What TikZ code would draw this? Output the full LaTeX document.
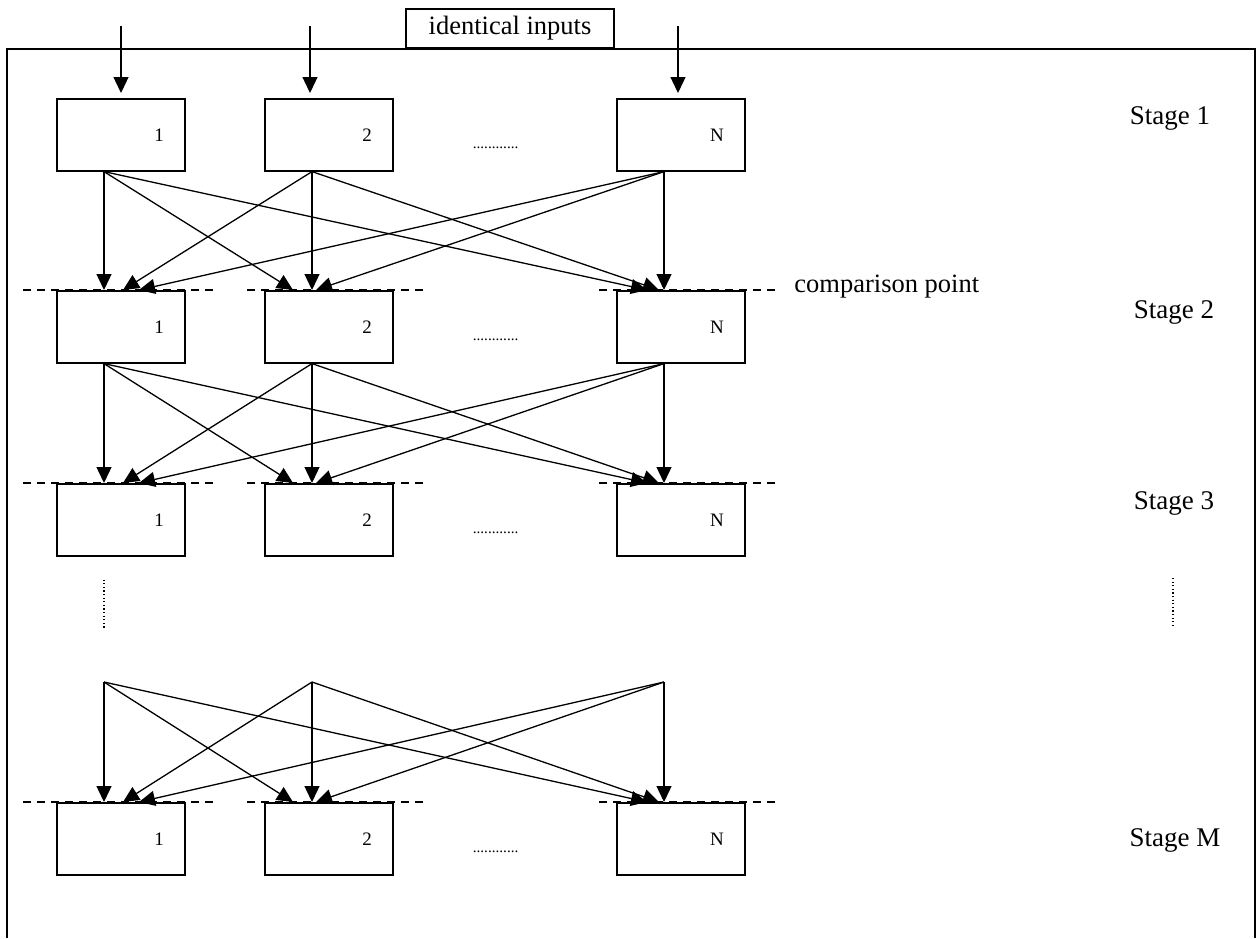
\documentclass[tikz,border=0pt]{standalone}
\usepackage{fontspec}
\setmainfont{Liberation Serif}
\usepackage{tikz}
\usetikzlibrary{arrows.meta, positioning, calc}
\tikzset{
  stagebox/.style={draw, line width=0.8pt, fill=white, minimum width=64pt, minimum height=36pt,
    inner sep=0pt, text width=43pt, align=right, font=\fontsize{9.5}{10}\selectfont},
  flow/.style={line width=0.65pt, -{Triangle[length=8pt, width=7.5pt]}},
  cmpline/.style={line width=0.65pt, dash pattern=on 4pt off 3pt},
  vdots/.style={line width=0.6pt, dash pattern=on 0.6pt off 1.2pt},
  stagelbl/.style={font=\fontsize{13.5}{16}\selectfont},
  hdots/.style={font=\fontsize{7.6}{9}\selectfont, anchor=base, inner sep=0pt}
}

\begin{document}
\begin{tikzpicture}[x=0.5pt, y=-0.5pt]
  \useasboundingbox (0,0) rectangle (1258,938);
  % outer frame, open at the bottom
  \draw[line width=0.85pt] (7,938) |- (1255,49) -- (1255,938);

  % comparison lines behind the boxes
  \foreach \s/\y in {2/290,3/483,M/802}{
    \draw[cmpline] (23,\y) -- (213,\y);
    \draw[cmpline] (247,\y) -- (423,\y);
    \draw[cmpline] (599,\y) -- (775,\y);
  }

  % the boxes of every stage
  \foreach \s/\y in {1/98,2/290,3/483,M/802}{
    \foreach \c/\x in {1/56,2/264,N/616}{
      \node[stagebox, anchor=north west] (b\s-\c) at (\x,\y) {\c};
      \coordinate (o\s-\c) at ($(b\s-\c.south west)+(48,0)$);
      \coordinate (i\s-\c) at ($(b\s-\c.north west)+(48,0)$);
    }
    \node[hdots] (dt\s) at ($(b\s-2.south east)+(102,-23)$) {............};
  }
  \foreach \c in {1,2,N}
    \coordinate (oL-\c) at ($(bM-\c.north west)+(48,-120)$);

  % identical inputs
  \node[draw, line width=0.8pt, fill=white, minimum width=104pt, minimum height=19.5pt,
    inner sep=0pt, font=\fontsize{13.25}{15}\selectfont] (inputs) at (510,28.5) {identical inputs};
  \foreach \c/\dx in {1/65,2/46,N/62}{
    \coordinate (in\c) at ($(b1-\c.north west)+(\dx,-72)$);
    \draw[flow] (in\c) -- ($(b1-\c.north west)+(\dx,-5)$);
  }

  % every module feeds every module of the next stage
  \foreach \s/\d in {1/2,2/3,L/M}{
    \draw[flow] (o\s-1) -- (i\d-1);
    \draw[flow] (o\s-2) -- ($(i\d-1)+(19,0)$);
    \draw[flow] (o\s-N) -- ($(i\d-1)+(35,0)$);
    \draw[flow] (o\s-1) -- ($(i\d-2)+(-19,0)$);
    \draw[flow] (o\s-2) -- (i\d-2);
    \draw[flow] (o\s-N) -- ($(i\d-2)+(4,0)$);
    \draw[flow] (o\s-1) -- ($(i\d-N)+(-17,0)$);
    \draw[flow] (o\s-2) -- ($(i\d-N)+(-5,0)$);
    \draw[flow] (o\s-N) -- (i\d-N);
  }

  \node[font=\fontsize{13.25}{15}\selectfont, anchor=west, inner sep=0pt] (cmp) at (794,287) {comparison point};
  \node[stagelbl] (st1) at (1170,118) {Stage 1};
  \node[stagelbl] (st2) at (1174,312) {Stage 2};
  \node[stagelbl] (st3) at (1174,503) {Stage 3};
  \node[stagelbl] (stM) at (1175,840) {Stage M};

  % vertical continuation dots
  \draw[vdots] ($(o3-1)+(0,23)$) -- ($(o3-1)+(0,73)$);
  \draw[vdots] ($(st3.center)+(-1,75)$) -- ($(st3.center)+(-1,125)$);
\end{tikzpicture}
\end{document}
